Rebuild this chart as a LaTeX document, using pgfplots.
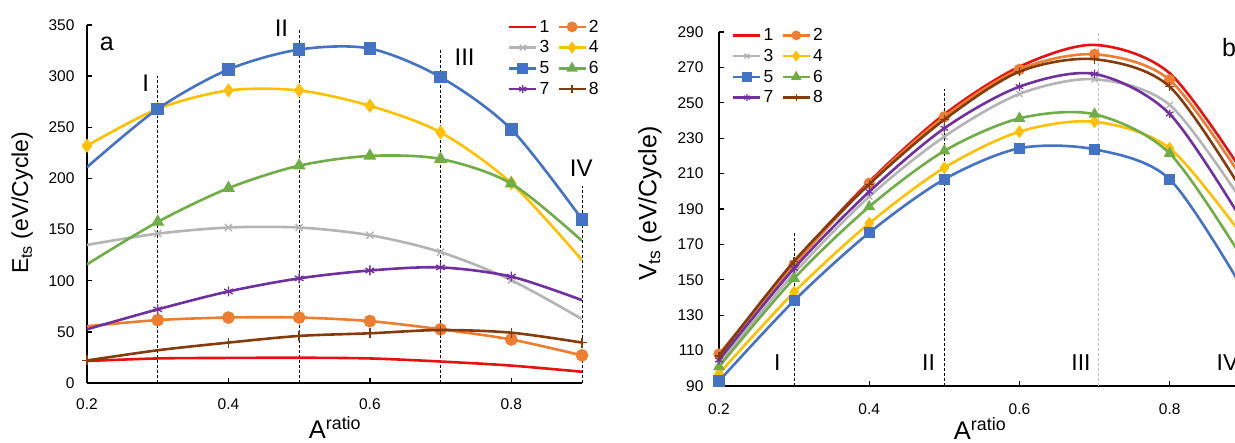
\documentclass[border=0pt]{standalone}
\usepackage{fontspec}
\setmainfont{Liberation Sans}
\usepackage{pgfplots}
\pgfplotsset{compat=1.18}

\definecolor{c1}{HTML}{E81010}
\definecolor{c2}{HTML}{ED7D31}
\definecolor{c3}{HTML}{B4B4B4}
\definecolor{c4}{HTML}{FFC000}
\definecolor{c5}{HTML}{4472C4}
\definecolor{c6}{HTML}{70AD47}
\definecolor{c7}{HTML}{7030A0}
\definecolor{c8}{HTML}{843C0C}

\newcommand{\fs}[1]{\fontsize{#1}{#1}\selectfont}

\tikzset{
  vline/.style={black, line width=0.9pt, dash pattern=on 3pt off 2pt},
  rom/.style={font=\fs{24}, anchor=center},
}

\pgfplotsset{
  panel/.style={
    scale only axis, axis x line=bottom, axis y line=left,
    axis line style={-, line width=1.5pt, black},
    clip mode=individual,
    tick align=inside, major tick length=5pt,
    tick style={line width=1.3pt, black},
    xtick={0.2,0.4,0.6,0.8},
    /pgf/number format/assume math mode=true,
    tick label style={font=\fs{15.5}},
    xticklabel style={/pgf/number format/fixed, /pgf/number format/fixed zerofill,
      /pgf/number format/precision=1},
    legend columns=2, legend cell align=left,
    legend style={draw=none, fill=none, font=\fs{17.5}, inner sep=0pt,
      row sep=3pt, /tikz/every even column/.append style={column sep=6pt}},
    legend image code/.code={
      \draw[line width=2.6pt] (0pt,0pt) -- (27pt,0pt);
      \draw[mark indices={1}, every mark/.append style={scale=0.8}]
        plot coordinates {(13.5pt,0pt)};},
    xlabel style={font=\fs{25.5}, anchor=base},
    ylabel style={anchor=center},
  },
  s1/.style={color=c1, line width=2.6pt, smooth, mark=none},
  s2/.style={color=c2, line width=2.6pt, smooth, mark=*, mark options={solid, fill=c2}},
  s3/.style={color=c3, line width=2.6pt, smooth, mark=x, mark options={solid, line width=1.4pt}},
  s4/.style={color=c4, line width=2.6pt, smooth, mark=diamond*, mark options={solid, fill=c4}},
  s5/.style={color=c5, line width=2.6pt, smooth, mark=square*, mark options={solid, fill=c5}},
  s6/.style={color=c6, line width=2.6pt, smooth, mark=triangle*, mark options={solid, fill=c6}},
  s7/.style={color=c7, line width=2.6pt, smooth, mark=asterisk, mark options={solid, line width=1.3pt}},
  s8/.style={color=c8, line width=2.6pt, smooth, mark=+, mark options={solid, line width=1.3pt}},
}

\begin{document}
\begin{tikzpicture}[x=1pt,y=1pt]
% ---------- panel a ----------
\begin{axis}[panel, at={(87pt,60pt)}, anchor=south west,
  width=495pt, height=358pt,
  xmin=0.2, xmax=0.9, ymin=0, ymax=350,
  ytick={0,50,...,350},
  yticklabel style={xshift=-9pt},
  xticklabel style={yshift=-12pt},
  xlabel={A\textsuperscript{ratio}}, ylabel={E\textsubscript{ts} (eV/Cycle)},
  xlabel style={at={(axis description cs:0.501,-0.156)}},
  ylabel style={font=\fs{23}, at={(axis description cs:-0.131,0.503)}},
  legend style={at={(axis description cs:0.85,1.02)}, anchor=north west},
  mark size=5pt,
]
\draw[vline] (axis cs:0.3,0) -- (axis cs:0.3,300);
\draw[vline] (axis cs:0.5,0) -- (axis cs:0.5,347);
\draw[vline] (axis cs:0.7,0) -- (axis cs:0.7,327);
\draw[vline] (axis cs:0.9,0) -- (axis cs:0.9,193);
\addplot[s1] coordinates {(0.2,21.5)(0.3,24)(0.4,24.5)(0.5,24.7)(0.6,24)(0.7,21)(0.8,17)(0.9,11)};
\addplot[s2, mark indices={2,3,4,5,6,7,8}] coordinates {(0.2,55.5)(0.3,61.5)(0.4,64)(0.5,64)(0.6,60.5)(0.7,52.5)(0.8,42.5)(0.9,27)};
\addplot[s3, mark indices={2,3,4,5,6,7}] coordinates {(0.2,135)(0.3,146)(0.4,152)(0.5,152)(0.6,144.5)(0.7,128)(0.8,100.5)(0.9,62.5)};
\addplot[s4, mark indices={1,2,3,4,5,6,7}] coordinates {(0.2,232)(0.3,268)(0.4,286)(0.5,286)(0.6,271)(0.7,245)(0.8,195.5)(0.9,120)};
\addplot[s5, mark indices={2,3,4,5,6,7,8}] coordinates {(0.2,211)(0.3,268)(0.4,306.5)(0.5,326)(0.6,327)(0.7,299)(0.8,248)(0.9,160)};
\addplot[s6, mark indices={2,3,4,5,6,7}] coordinates {(0.2,116)(0.3,157.5)(0.4,190.5)(0.5,212.5)(0.6,222)(0.7,219)(0.8,195)(0.9,139)};
\addplot[s7, mark indices={2,3,4,5,6,7}] coordinates {(0.2,52.5)(0.3,72)(0.4,89.5)(0.5,102.3)(0.6,110)(0.7,113)(0.8,104)(0.9,81)};
\addplot[s8, mark indices={1,3,4,5,6,7,8}] coordinates {(0.2,22)(0.3,32)(0.4,39.5)(0.5,46)(0.6,48.6)(0.7,51.8)(0.8,49.2)(0.9,39.5)};
\legend{1,2,3,4,5,6,7,8}
\node[font=\fs{25}] at (axis cs:0.228,332) {a};
\node[rom] at (axis cs:0.283,293) {I};
\node[rom] at (axis cs:0.475,347) {II};
\node[rom] at (axis cs:0.734,318) {III};
\node[rom] at (axis cs:0.899,210) {IV};
\end{axis}
% ---------- panel b ----------
\begin{axis}[panel, at={(719pt,57pt)}, anchor=south west,
  width=516pt, height=354pt,
  xmin=0.2, xmax=0.887, ymin=90, ymax=290,
  ytick={90,110,...,290},
  yticklabel style={xshift=-12pt},
  xticklabel style={yshift=-14pt},
  xlabel={A\textsuperscript{ratio}}, ylabel={V\textsubscript{ts} (eV/Cycle)},
  xlabel style={at={(axis description cs:0.506,-0.150)}},
  ylabel style={font=\fs{25}, at={(axis description cs:-0.134,0.515)}},
  legend style={at={(axis description cs:0.025,1.016)}, anchor=north west},
  mark size=4.3pt,
]
\draw[vline] (axis cs:0.3,90) -- (axis cs:0.3,177);
\draw[vline] (axis cs:0.5,90) -- (axis cs:0.5,258);
\draw[vline, color=black!25] (axis cs:0.705,90) -- (axis cs:0.705,290);
\addplot[s1] coordinates {(0.2,107)(0.3,159.7)(0.4,205.4)(0.5,243.5)(0.6,270.4)(0.7,282.7)(0.8,266.7)(0.9,209)};
\addplot[s2] coordinates {(0.2,108)(0.3,158.5)(0.4,204.5)(0.5,242.1)(0.6,268.9)(0.7,277.4)(0.8,262.9)(0.9,205)};
\addplot[s3] coordinates {(0.2,102.5)(0.3,153.7)(0.4,197)(0.5,230.9)(0.6,255)(0.7,263.3)(0.8,248.8)(0.9,192)};
\addplot[s4] coordinates {(0.2,97)(0.3,143)(0.4,181.9)(0.5,213.3)(0.6,233.7)(0.7,239.3)(0.8,224.3)(0.9,173)};
\addplot[s5] coordinates {(0.2,92.8)(0.3,138.2)(0.4,176.6)(0.5,206.8)(0.6,224.3)(0.7,223.7)(0.8,206.8)(0.9,143)};
\addplot[s6] coordinates {(0.2,100.9)(0.3,150.8)(0.4,191.3)(0.5,222.8)(0.6,241.2)(0.7,243.5)(0.8,221.4)(0.9,160)};
\addplot[s7] coordinates {(0.2,104.7)(0.3,156.5)(0.4,199.8)(0.5,235.6)(0.6,259.1)(0.7,266.3)(0.8,243.7)(0.9,181)};
\addplot[s8] coordinates {(0.2,107)(0.3,160.5)(0.4,204)(0.5,240.5)(0.6,267.6)(0.7,274.6)(0.8,259.1)(0.9,198)};
\legend{1,2,3,4,5,6,7,8}
\node[rom, font=\fs{23}] at (axis cs:0.2775,103) {I};
\node[rom, font=\fs{23}] at (axis cs:0.479,103) {II};
\node[rom, font=\fs{23}] at (axis cs:0.682,103) {III};
\node[rom, font=\fs{23}] at (axis cs:0.877,103) {IV};
\node[font=\fs{25}] at (axis cs:0.879,281) {b};
\end{axis}
\pgfresetboundingbox
\path[use as bounding box] (0,0) rectangle (1235,443);
\end{tikzpicture}
\end{document}
